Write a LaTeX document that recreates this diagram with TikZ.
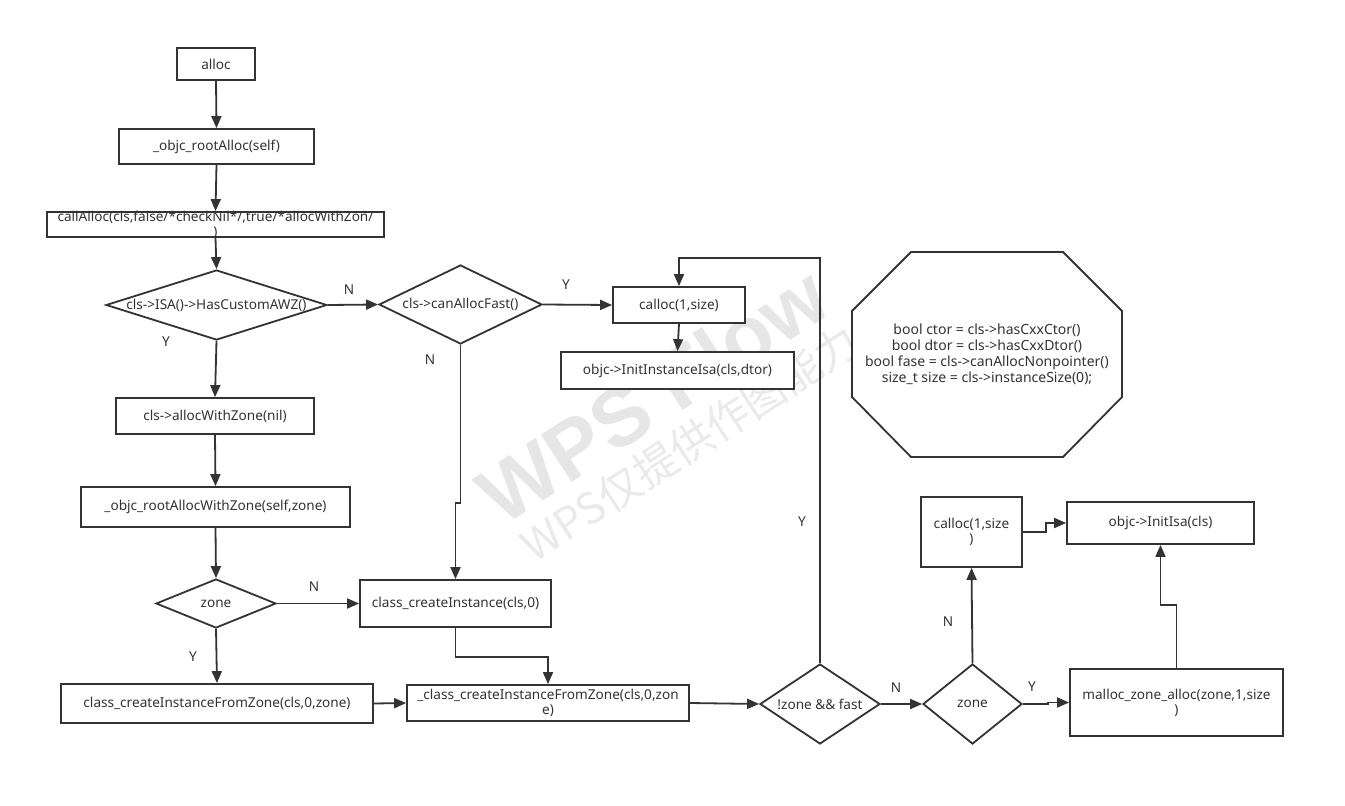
\documentclass[tikz,border=0pt]{standalone}
\usepackage{fontspec}
\setmainfont{Noto Sans}
\newfontfamily\cjk{Noto Sans CJK SC}
\newfontfamily\wmfont{Liberation Sans}
\usetikzlibrary{arrows.meta,shapes.geometric}
\definecolor{ln}{HTML}{333333}
\definecolor{wm}{HTML}{E6E6E6}
\begin{document}
\begin{tikzpicture}[x=1pt,y=-1pt,
  every node/.style={font=\fontsize{13.6}{15}\selectfont, text=ln},
  box/.style={draw=ln, line width=1.8pt, rectangle, inner sep=0pt, fill=white},
  dia/.style={draw=ln, line width=1.8pt, diamond, inner sep=0pt, fill=white},
  conn/.style={draw=ln, line width=1.8pt, -{Triangle[length=12pt,width=10pt]}},
  lbl/.style={font=\fontsize{13.6}{15}\selectfont},
  txt/.style={align=center, inner sep=0pt}
]
\useasboundingbox (0,0) rectangle (1345,806);
\fill[white] (0,0) rectangle (1345,806);
% watermark
\node[text=wm, rotate=33, font=\wmfont\bfseries\fontsize{82}{82}\selectfont, inner sep=0pt] (wm1) at (653,395) {WPS Flow};
\node[text=wm!85!white, rotate=33, font=\cjk\fontsize{43}{43}\selectfont, inner sep=0pt] (wm2) at (690,443) {WPS仅提供作图能力};

% nodes
\node[box, minimum width=78, minimum height=32] (alloc) at (216,64) {alloc};
\node[box, minimum width=195, minimum height=35] (root) at (216.5,146.5) {\_objc\_rootAlloc(self)};
\node[box, minimum width=337, minimum height=25] (ca) at (215.5,224.5) {};
\node[txt] (catxt) at (ca) {callAlloc(cls,false/*checkNil*/,true/*allocWithZon/\\)};
\node[dia, minimum width=221, minimum height=70] (d1) at (216.5,305) {};
\node[txt] (d1t) at (d1) {cls->ISA()->HasCustomAWZ()};
\node[dia, minimum width=163, minimum height=79] (d2) at (460.5,304.5) {};
\node[txt] (d2t) at (d2) {cls->canAllocFast()};
\node[box, minimum width=132, minimum height=36] (calloc1) at (679,305) {calloc(1,size)};
\node[box, minimum width=233, minimum height=37] (iii) at (677.5,370.5) {objc->InitInstanceIsa(cls,dtor)};
\node[box, minimum width=198, minimum height=36] (awz) at (215,416) {cls->allocWithZone(nil)};
\node[box, minimum width=269, minimum height=40] (rawz) at (215.5,507) {\_objc\_rootAllocWithZone(self,zone)};
\node[dia, minimum width=120, minimum height=49] (z1) at (216,603.5) {};
\node[txt] (z1t) at (z1) {zone};
\node[box, minimum width=191, minimum height=47] (cci) at (455.5,603.5) {class\_createInstance(cls,0)};
\node[box, minimum width=312, minimum height=39] (ccifz) at (217,703.5) {class\_createInstanceFromZone(cls,0,zone)};
\node[box, minimum width=282, minimum height=36] (uccifz) at (548,703) {};
\node[txt] (uccifzt) at (uccifz) {\_class\_createInstanceFromZone(cls,0,zon\\e)};
\node[dia, minimum width=120, minimum height=80] (nzf) at (820,704) {};
\node[txt] (nzft) at (nzf) {!zone \&\& fast};
\node[dia, minimum width=99, minimum height=80] (z2) at (972.5,704) {};
\node[txt] (z2t) at (z2) {zone};
\node[box, minimum width=101, minimum height=70] (calloc2) at (971.5,532) {};
\node[txt] (calloc2t) at (calloc2) {calloc(1,size\\)};
\node[box, minimum width=187, minimum height=42] (initisa) at (1160.5,523) {objc->InitIsa(cls)};
\node[box, minimum width=213, minimum height=67] (malloc) at (1176.5,702.5) {};
\node[txt] (malloct) at (malloc) {malloc\_zone\_alloc(zone,1,size\\)};
% octagon
\coordinate (oc) at (987,354.5);
\draw[ln, line width=1.8pt, fill=white] (911,252) -- (1063,252) -- (1122,311) -- (1122,397) -- (1063,457) -- (911,457) -- (852,397) -- (852,311) -- cycle;
\node[txt, font=\fontsize{14}{16}\selectfont] (octxt) at (oc) {bool ctor = cls->hasCxxCtor()\\bool dtor = cls->hasCxxDtor()\\bool fase = cls->canAllocNonpointer()\\size\_t size = cls->instanceSize(0);};

% connectors
\draw[conn] (alloc.south) -- (root.north);
\draw[conn] (root.south) -- (ca.north);
\draw[conn] (ca.south) -- (d1.north);
\draw[conn] (d1.east) -- (d2.west);
\draw[conn] (d1.south) -- (awz.north);
\draw[conn] (awz.south) -- (rawz.north);
\draw[conn] (rawz.south) -- (z1.north);
\draw[conn] (z1.east) -- (cci.west);
\draw[conn] (z1.south) -- (ccifz.north);
\draw[conn] (d2.east) -- (calloc1.west);
\draw[conn] (d2.south) -- ++(0,158) -| (cci.north);
\draw[conn] (calloc1.south) -- (iii.north);
\draw[conn] (cci.south) -- ++(0,29) -| (uccifz.north);
\draw[conn] (ccifz.east) -- (uccifz.west);
\draw[conn] (uccifz.east) -- (nzf.west);
\draw[conn] (nzf.north) -- (820,258) -| (calloc1.north);
\draw[conn] (nzf.east) -- (z2.west);
\draw[conn] (z2.north) -- (calloc2.south);
\draw[conn] (z2.east) -- ++(25,0) |- (malloc.west);
\draw[conn] (calloc2.east) -- ++(23,0) |- (initisa.west);
\draw[conn] (malloc.north) -- ++(0,-63) -| (initisa.south);

% labels
\node[lbl] (lN1) at (349,290) {N};
\node[lbl] (lY1) at (166,342) {Y};
\node[lbl] (lY2) at (566,285) {Y};
\node[lbl] (lN2) at (430,360) {N};
\node[lbl] (lN3) at (314,587) {N};
\node[lbl] (lY3) at (193,657) {Y};
\node[lbl] (lY4) at (802,522) {Y};
\node[lbl] (lN4) at (896,688) {N};
\node[lbl] (lN5) at (948,622) {N};
\node[lbl] (lY5) at (1032,687) {Y};
\end{tikzpicture}
\end{document}
